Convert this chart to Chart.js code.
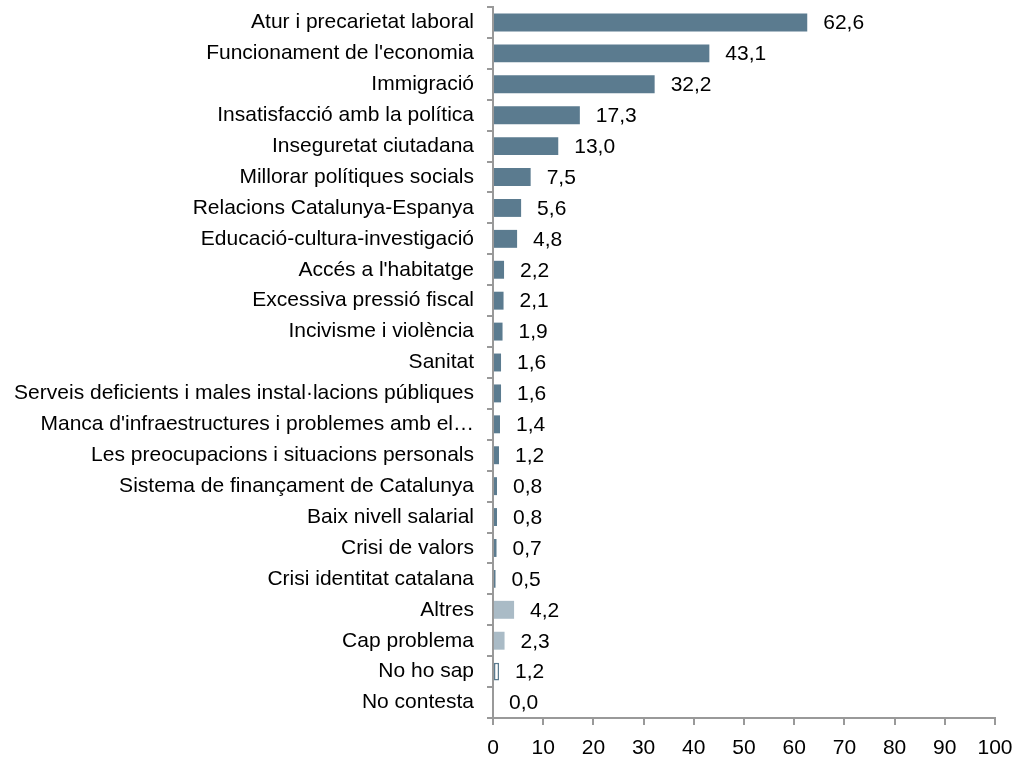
<html lang="ca">
<head>
  <meta charset="utf-8">
  <title>Problemes</title>
  <style>
    body { padding: 0; margin: 0; background: #fff; }
  </style>
  <script src="https://cdn.jsdelivr.net/npm/chart.js@4.4.1/dist/chart.umd.min.js"></script>
</head>
<body>
  <canvas id="chart" width="1020" height="758"></canvas>
  <script>
    const categories = [
      'Atur i precarietat laboral',
      "Funcionament de l'economia",
      'Immigració',
      'Insatisfacció amb la política',
      'Inseguretat ciutadana',
      'Millorar polítiques socials',
      'Relacions Catalunya-Espanya',
      'Educació-cultura-investigació',
      "Accés a l'habitatge",
      'Excessiva pressió fiscal',
      'Incivisme i violència',
      'Sanitat',
      'Serveis deficients i males instal·lacions públiques',
      "Manca d'infraestructures i problemes amb el…",
      'Les preocupacions i situacions personals',
      'Sistema de finançament de Catalunya',
      'Baix nivell salarial',
      'Crisi de valors',
      'Crisi identitat catalana',
      'Altres',
      'Cap problema',
      'No ho sap',
      'No contesta'
    ];
    const values = [62.6, 43.1, 32.2, 17.3, 13.0, 7.5, 5.6, 4.8, 2.2, 2.1, 1.9, 1.6, 1.6, 1.4, 1.2, 0.8, 0.8, 0.7, 0.5, 4.2, 2.3, 1.2, 0.0];
    const xTicks = [0, 10, 20, 30, 40, 50, 60, 70, 80, 90, 100];

    const dark = '#5b7b8f';
    const light = '#aabbc6';
    const fills = categories.map((c, i) => i < 19 ? dark : (i < 21 ? light : '#ffffff'));
    const borders = categories.map((c, i) => i === 21 ? 1.5 : 0);

    const font = { family: '"Liberation Sans", Arial, sans-serif', size: 21 };

    const valueLabels = {
      id: 'valueLabels',
      afterDatasetsDraw(chart) {
        const ctx = chart.ctx;
        const meta = chart.getDatasetMeta(0);
        ctx.save();
        ctx.font = font.size + 'px ' + font.family;
        ctx.fillStyle = '#000';
        ctx.textAlign = 'left';
        ctx.textBaseline = 'middle';
        meta.data.forEach((bar, i) => {
          const txt = values[i].toFixed(1).replace('.', ',');
          ctx.fillText(txt, bar.x + 16, bar.y + 1);
        });
        ctx.restore();
      }
    };

    new Chart(document.getElementById('chart'), {
      type: 'bar',
      data: {
        labels: categories,
        datasets: [{
          data: values,
          backgroundColor: fills,
          borderColor: dark,
          borderWidth: borders,
          borderSkipped: false,
          barPercentage: 0.58,
          categoryPercentage: 1
        }]
      },
      options: {
        indexAxis: 'y',
        responsive: false,
        animation: false,
        layout: { padding: { top: 7, right: 25, left: 0, bottom: 0 } },
        plugins: { legend: { display: false }, tooltip: { enabled: false } },
        scales: {
          x: {
            min: 0,
            max: 100,
            afterBuildTicks(scale) { scale.ticks = xTicks.map(v => ({ value: v })); },
            afterFit(scale) {
              scale.height = 40;
              scale.paddingLeft = 0;
              scale.paddingRight = 0;
            },
            border: { color: '#999', width: 2 },
            grid: { drawOnChartArea: false, drawTicks: true, tickLength: 7, color: '#999', lineWidth: 2 },
            ticks: { color: '#000', font: font, padding: 11, maxRotation: 0 }
          },
          y: {
            afterFit(scale) {
              scale.width = 493;
              scale.paddingTop = 0;
              scale.paddingBottom = 0;
            },
            border: { color: '#999', width: 2 },
            grid: { drawOnChartArea: false, drawTicks: true, tickLength: 6, color: '#999', lineWidth: 2, offset: true },
            ticks: { color: '#000', font: font, padding: 13, autoSkip: false }
          }
        }
      },
      plugins: [valueLabels]
    });
  </script>
</body>
</html>
